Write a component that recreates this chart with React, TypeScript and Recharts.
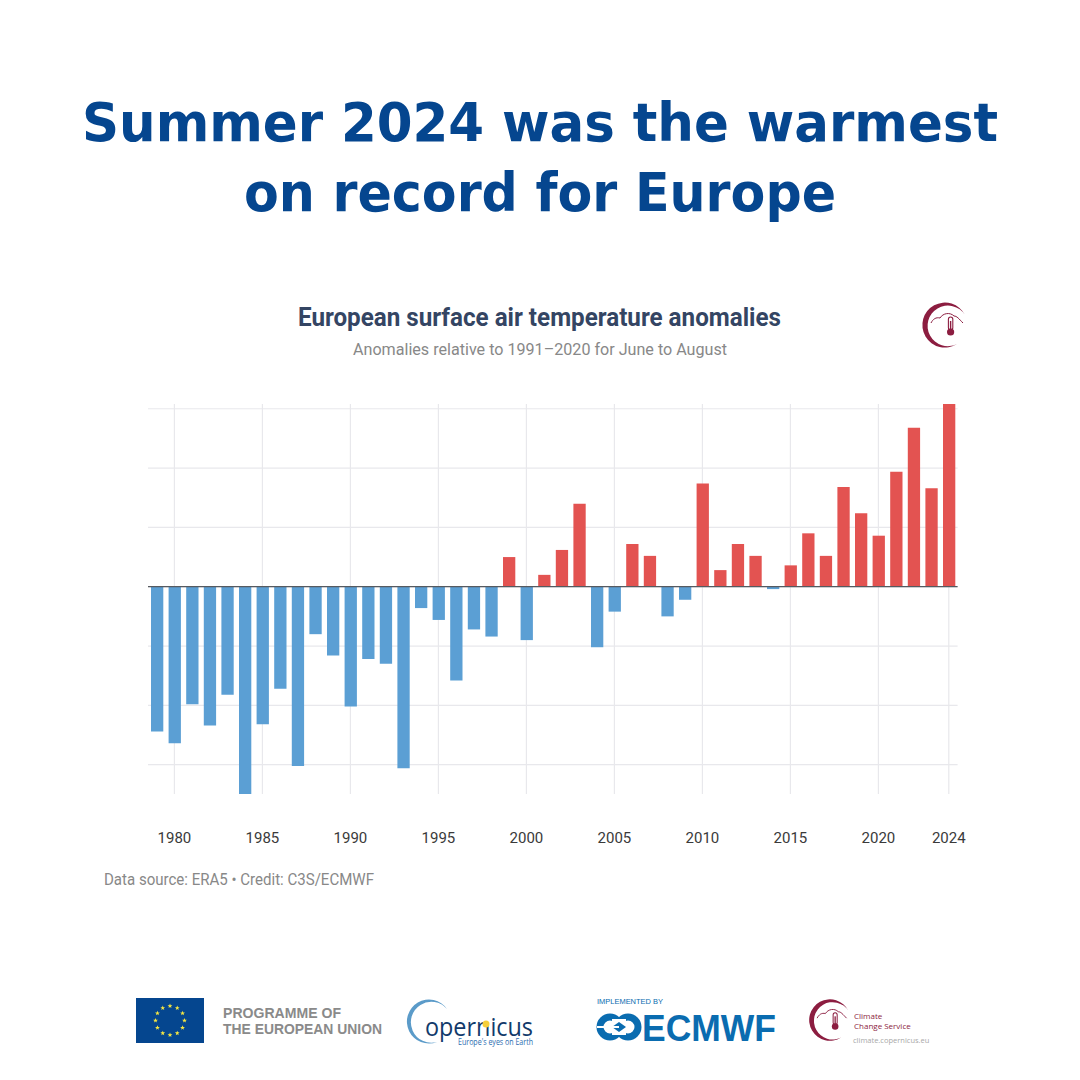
import { Bar, CartesianGrid, Cell, ComposedChart, ReferenceLine, XAxis, YAxis } from "recharts";

const YEARS = [
  1979, 1980, 1981, 1982, 1983, 1984, 1985, 1986, 1987, 1988, 1989, 1990, 1991, 1992, 1993, 1994,
  1995, 1996, 1997, 1998, 1999, 2000, 2001, 2002, 2003, 2004, 2005, 2006, 2007, 2008, 2009, 2010,
  2011, 2012, 2013, 2014, 2015, 2016, 2017, 2018, 2019, 2020, 2021, 2022, 2023, 2024,
];
const ANOMALIES = [
  -1.22, -1.32, -0.99, -1.17, -0.91, -1.747, -1.16, -0.86, -1.51, -0.4, -0.58, -1.01, -0.61, -0.65, -1.53, -0.18,
  -0.28, -0.79, -0.36, -0.42, 0.25, -0.45, 0.1, 0.31, 0.7, -0.51, -0.21, 0.36, 0.26, -0.25, -0.11, 0.87,
  0.14, 0.36, 0.26, -0.02, 0.18, 0.45, 0.26, 0.84, 0.62, 0.43, 0.97, 1.34, 0.83, 1.54,
];
const YEAR_TICKS = [1980, 1985, 1990, 1995, 2000, 2005, 2010, 2015, 2020, 2024];
const VALUE_TICKS = [-1.5, -1, -0.5, 0, 0.5, 1, 1.5];

const RED = "#e35351";
const BLUE = "#5b9fd4";
const MAROON = "#8c1d40";
const ECMWF_BLUE = "#0a6cb0";
const GRID = "#e8e8ec";

const data = YEARS.map((year, i) => ({ year, value: ANOMALIES[i] }));

// Climate service roundel, centred on 0,0 at radius ~23
function ClimateMark({ x, y, scale }: { x: number; y: number; scale: number }) {
  return (
    <g transform={`translate(${x} ${y}) scale(${scale})`}>
      <path d="M20,-10 A22.5,22.5 0 1 0 12,19 A20.3,20.3 0 1 1 20,-10 Z" fill={MAROON} />
      <path
        d="M-14,-2 C-12,-6 -9,-8 -5,-7 C-2,-12 5,-13 9,-9 C12,-9 14,-6 18,-2"
        fill="none"
        stroke={MAROON}
        strokeWidth={1}
      />
      <rect x={3.4} y={-8} width={4.4} height={13} rx={2.2} fill="#fff" stroke={MAROON} strokeWidth={1.1} />
      <circle cx={5.6} cy={7} r={3.6} fill={MAROON} />
      <rect x={4.9} y={-4} width={1.4} height={10} fill={MAROON} />
    </g>
  );
}

function Star({ x, y }: { x: number; y: number }) {
  return (
    <path
      transform={`translate(${x} ${y})`}
      d="M0,-2.4 L0.7,-0.7 L2.4,-0.7 L1,0.4 L1.5,2.1 L0,1.1 L-1.5,2.1 L-1,0.4 L-2.4,-0.7 L-0.7,-0.7 Z"
      fill="#f5e642"
    />
  );
}

function Overlay() {
  const stars = Array.from({ length: 12 }, (_, i) => (i * Math.PI) / 6);
  return (
    <svg width={1080} height={1080} style={{ position: "absolute", left: 0, top: 0 }}>
      <g fontFamily="DejaVu Sans" fontWeight={700} fontSize={53} fill="#05468f">
        <text x={82} y={141} textLength={916} lengthAdjust="spacingAndGlyphs">
          Summer 2024 was the warmest
        </text>
        <text x={244} y={211} textLength={592} lengthAdjust="spacingAndGlyphs">
          on record for Europe
        </text>
      </g>

      <text
        x={298}
        y={326}
        fontFamily="Roboto"
        fontWeight={700}
        fontSize={26}
        fill="#344563"
        textLength={483}
        lengthAdjust="spacingAndGlyphs"
      >
        European surface air temperature anomalies
      </text>
      <text
        x={353}
        y={355}
        fontFamily="Roboto"
        fontSize={16.5}
        fill="#888888"
        textLength={374}
        lengthAdjust="spacingAndGlyphs"
      >
        Anomalies relative to 1991–2020 for June to August
      </text>
      <ClimateMark x={945} y={325} scale={1} />

      <text
        x={104}
        y={885}
        fontFamily="Roboto"
        fontSize={16}
        fill="#888888"
        textLength={270}
        lengthAdjust="spacingAndGlyphs"
      >
        Data source: ERA5 • Credit: C3S/ECMWF
      </text>

      {/* EU flag and programme text */}
      <rect x={136} y={998} width={68} height={45} fill="#05468f" />
      {stars.map((a, i) => (
        <Star key={i} x={170 + 14.5 * Math.sin(a)} y={1020.5 - 14.5 * Math.cos(a)} />
      ))}
      <g fontFamily="Liberation Sans" fontWeight={700} fontSize={14.5} fill="#8a8a8a">
        <text x={223} y={1018} textLength={118} lengthAdjust="spacingAndGlyphs">PROGRAMME OF</text>
        <text x={223} y={1034} textLength={159} lengthAdjust="spacingAndGlyphs">THE EUROPEAN UNION</text>
      </g>

      {/* Copernicus */}
      <path d="M447,1009 A22,22 0 1 0 437,1042 A20.5,20.5 0 1 1 447,1009 Z" fill="#5b9bc9" />
      <text
        x={425}
        y={1036}
        fontFamily="Open Sans"
        fontSize={25}
        fill="#123a6b"
        textLength={108}
        lengthAdjust="spacingAndGlyphs"
      >
        opernicus
      </text>
      <circle cx={486} cy={1024} r={3.5} fill="#f5cf3a" />
      <text
        x={458}
        y={1045}
        fontFamily="Open Sans"
        fontSize={8.5}
        fill="#2a6db0"
        textLength={75}
        lengthAdjust="spacingAndGlyphs"
      >
        Europe's eyes on Earth
      </text>

      {/* ECMWF */}
      <text
        x={597}
        y={1004}
        fontFamily="Liberation Sans"
        fontSize={7.5}
        fill={ECMWF_BLUE}
        textLength={66}
        lengthAdjust="spacingAndGlyphs"
      >
        IMPLEMENTED BY
      </text>
      <g fill="none" stroke={ECMWF_BLUE} strokeWidth={7}>
        <circle cx={610} cy={1027} r={10} />
        <circle cx={628} cy={1027} r={10} />
      </g>
      <rect x={612} y={1019} width={14} height={16} fill="#fff" />
      <path d="M619,1022 L626,1027 L619,1032 L612,1027 Z" fill={ECMWF_BLUE} />
      <rect x={597} y={1026} width={22} height={2} fill="#fff" />
      <text
        x={642}
        y={1041}
        fontFamily="Liberation Sans"
        fontWeight={700}
        fontSize={36}
        fill={ECMWF_BLUE}
        textLength={134}
        lengthAdjust="spacingAndGlyphs"
      >
        ECMWF
      </text>

      {/* Climate Change Service */}
      <ClimateMark x={830} y={1020} scale={0.92} />
      <g fontFamily="Open Sans" fontSize={8} fill={MAROON}>
        <text x={854} y={1019}>Climate</text>
        <text x={854} y={1028.5}>Change Service</text>
      </g>
      <text x={853} y={1043} fontFamily="Open Sans" fontSize={7.5} fill="#a8a8a8">
        climate.copernicus.eu
      </text>
    </svg>
  );
}

export default function App() {
  return (
    <div style={{ position: "absolute", left: 0, top: 0, width: 1080, height: 1080, background: "#fff" }}>
      <ComposedChart
        width={1080}
        height={1080}
        data={data}
        margin={{ top: 404, right: 122.4, bottom: 226, left: 148 }}
      >
        <CartesianGrid stroke={GRID} strokeWidth={1.2} horizontalValues={VALUE_TICKS} verticalValues={YEAR_TICKS} />
        <XAxis
          dataKey="year"
          type="category"
          ticks={YEAR_TICKS}
          interval={0}
          height={60}
          axisLine={false}
          tickLine={false}
          tickMargin={32}
          tick={{ fontFamily: "Roboto", fontSize: 15, fill: "#3a3a3a" }}
        />
        <YAxis hide width={0} domain={[-1.747, 1.54]} ticks={VALUE_TICKS} allowDataOverflow />
        <Bar dataKey="value" barSize={12.3} isAnimationActive={false}>
          {data.map((d) => (
            <Cell key={d.year} fill={d.value >= 0 ? RED : BLUE} />
          ))}
        </Bar>
        <ReferenceLine y={0} stroke="#555a60" strokeWidth={1.3} />
      </ComposedChart>
      <Overlay />
    </div>
  );
}
